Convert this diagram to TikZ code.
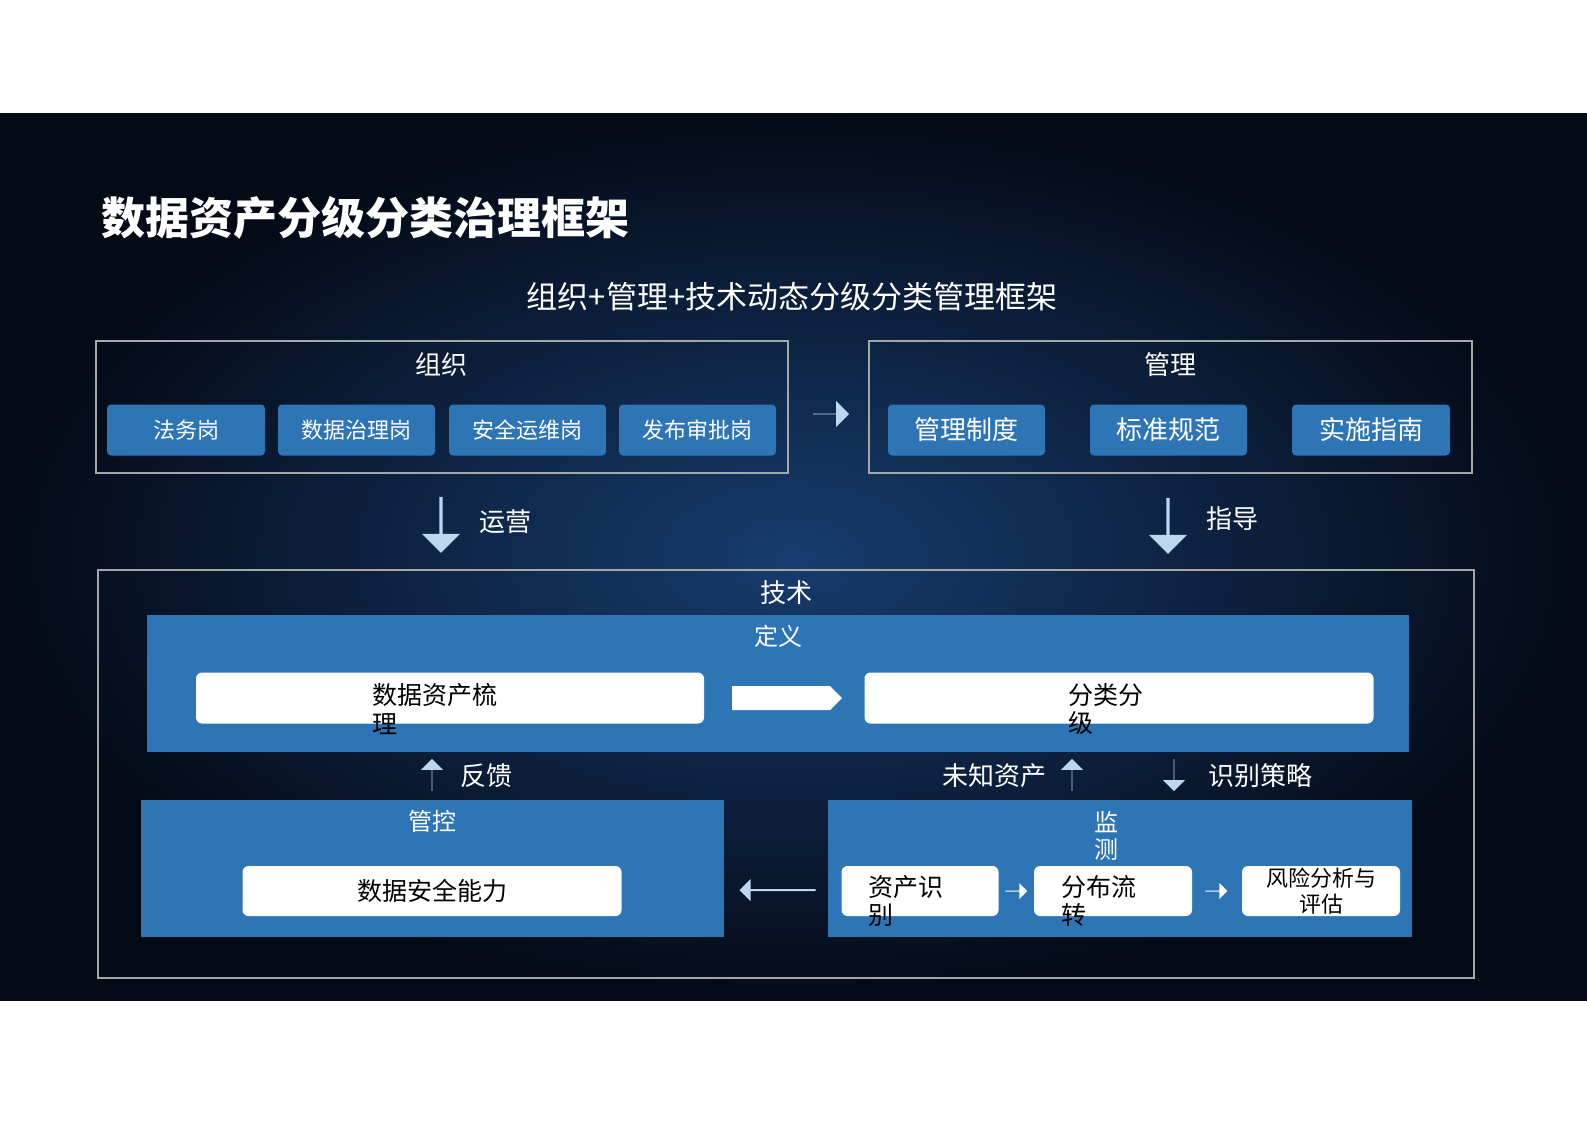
\documentclass[tikz,border=0pt]{standalone}
\usepackage{fontspec}
\setmainfont{Noto Sans CJK SC}
\usetikzlibrary{shapes.arrows}
\definecolor{btn}{HTML}{2E75B6}
\definecolor{arr}{HTML}{BDD7EE}
\definecolor{frame}{HTML}{A6A6A6}
\newcommand{\fs}[1]{\fontsize{#1}{\dimexpr #1pt*115/100\relax}\selectfont}
\begin{document}
\begin{tikzpicture}[x=1pt,y=-1pt,
  lbl/.style={text=white,font=\fs{26}},
  btnbox/.style={fill=btn,rounded corners=4pt,text=white,font=\fs{22}},
  wbox/.style={fill=white,rounded corners=6pt,font=\fs{25}},
  frm/.style={draw=frame,line width=1.2pt},
  panel/.style={fill=btn},
  barr/.style={single arrow,fill=arr,draw=none,single arrow head extend=5pt,inner sep=0pt},
  warr/.style={single arrow,fill=white,draw=none,single arrow head extend=4pt,inner sep=0pt}]
\useasboundingbox (0,0) rectangle (1587,1122);
\fill[white] (0,0) rectangle (1587,1122);
\shade[inner color={rgb,255:red,22;green,60;blue,110},outer color={rgb,255:red,4;green,10;blue,22}] (0,113) rectangle (1587,1000);
\node[text=white,font=\bfseries\fs{44},anchor=west] (title) at (98,218) {数据资产分级分类治理框架};
\node[text=white,font=\fs{31}] (sub) at (792,297) {组织+管理+技术动态分级分类管理框架};
% org
\draw[frm] (96,341) rectangle (788,473);
\node[lbl] (org) at (441,365) {组织};
\foreach \a/\b/\t [count=\i] in {107/265/法务岗,278/435/数据治理岗,449/606/安全运维岗,619/776/发布审批岗}
  \node[btnbox,minimum width=\b-\a,minimum height=51] (o\i) at ({(\a+\b)/2},430) {\t};
\node[barr,minimum height=36,minimum width=26,single arrow head extend=6pt] (ra) at (831,414) {};
% mgmt
\draw[frm] (869,341) rectangle (1472,473);
\node[lbl] (mg) at (1170,365) {管理};
\foreach \a/\b/\t [count=\i] in {888/1045/管理制度,1090/1247/标准规范,1292/1450/实施指南}
  \node[btnbox,font=\fs{26},minimum width=\b-\a,minimum height=51] (m\i) at ({(\a+\b)/2},430) {\t};
\node[barr,rotate=-90,minimum height=56,minimum width=38,single arrow head extend=2pt] (d1) at (441,524) {};
\node[lbl,anchor=west] (yy) at (476,522) {运营};
\node[barr,rotate=-90,minimum height=56,minimum width=38,single arrow head extend=2pt] (d2) at (1168,525) {};
\node[lbl,anchor=west] (zd) at (1203,519) {指导};
% tech
\draw[frm] (98,570) rectangle (1474,978);
\node[lbl] (js) at (786,593) {技术};
\fill[panel] (147,615) rectangle (1409,752);
\node[lbl,font=\fs{24}] (dy) at (778,636) {定义};
\node[wbox,minimum width=508,minimum height=51] (b1) at (450,698) {};
\node[font=\fs{25},anchor=north west,align=left,inner sep=0pt] (b1t) at (372,683) {数据资产梳\\理};
\node[wbox,minimum width=509,minimum height=51] (b2) at (1119,698) {};
\node[font=\fs{25},anchor=north west,align=left,inner sep=0pt] (b2t) at (1068,683) {分类分\\级};
\node[warr,minimum height=110,minimum width=24,single arrow head extend=0pt] (wa) at (781,698) {};
\node[barr,rotate=90,minimum height=32,minimum width=22,single arrow head extend=6pt] (u1) at (432,775) {};
\node[lbl,anchor=west] (fk) at (457,776) {反馈};
\node[lbl,anchor=east] (wz) at (1050,776) {未知资产};
\node[barr,rotate=90,minimum height=32,minimum width=22,single arrow head extend=6pt] (u2) at (1072,775) {};
\node[barr,rotate=-90,minimum height=32,minimum width=22,single arrow head extend=6pt] (d3) at (1174,775) {};
\node[lbl,anchor=west] (sb) at (1205,776) {识别策略};
% guankong
\fill[panel] (141,800) rectangle (724,937);
\node[lbl,font=\fs{24}] (gk) at (432,821) {管控};
\node[wbox,minimum width=379,minimum height=50] (b3) at (432,891) {数据安全能力};
\node[barr,rotate=180,minimum height=76,minimum width=22,single arrow head extend=2pt] (la) at (778,890) {};
% jiance
\fill[panel] (828,800) rectangle (1412,937);
\node[lbl,font=\fs{24},align=center,inner sep=0pt] (jc) at (1106,836) {监\\测};
\node[wbox,minimum width=157,minimum height=50] (c1) at (920,891) {};
\node[font=\fs{25},anchor=north west,align=left,inner sep=0pt] (c1t) at (868,875) {资产识\\别};
\node[wbox,minimum width=158,minimum height=50] (c2) at (1113,891) {};
\node[font=\fs{25},anchor=north west,align=left,inner sep=0pt] (c2t) at (1061,875) {分布流\\转};
\node[wbox,minimum width=158,minimum height=50,font=\fs{22},align=center,inner sep=0pt] (c3) at (1321,891) {风险分析与\\评估};
\node[barr,fill=white,minimum height=22,minimum width=16,single arrow head extend=3pt] (s1) at (1016,891) {};
\node[barr,fill=white,minimum height=22,minimum width=16,single arrow head extend=3pt] (s2) at (1216,891) {};
\end{tikzpicture}
\end{document}
